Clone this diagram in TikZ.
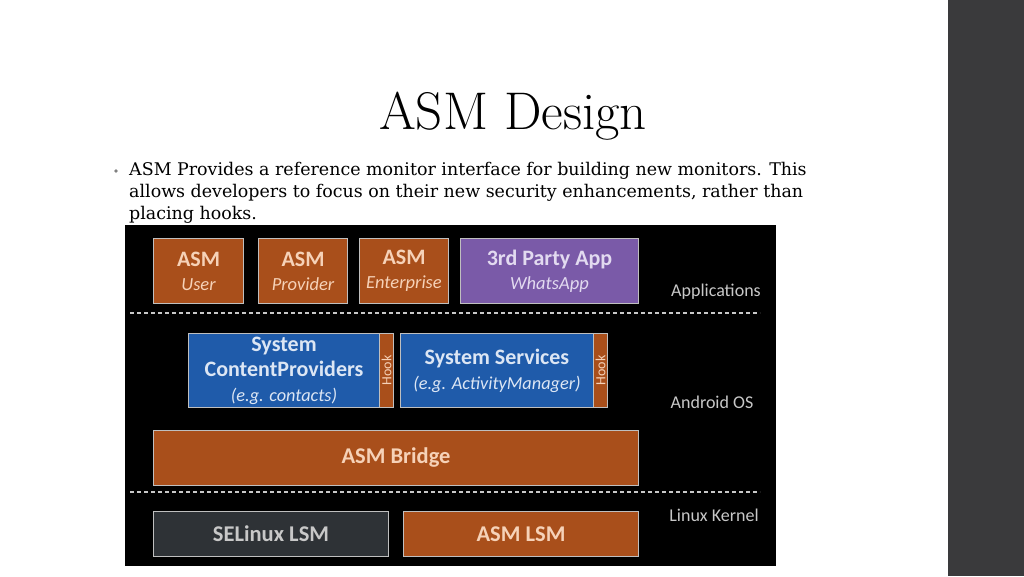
\documentclass[tikz,border=0pt]{standalone}
\usepackage{fontspec}
\newfontfamily\carlitofont{Carlito}
\newfontfamily\bodyserif{DejaVu Serif}
\definecolor{asmorange}{HTML}{A94F1B}
\definecolor{asmpurple}{HTML}{7A5AA8}
\definecolor{asmblue}{HTML}{1F5BAA}
\definecolor{asmgrey}{HTML}{2E3236}
\definecolor{sidebar}{HTML}{3A3A3C}
\definecolor{peach}{HTML}{F6D2B8}
\definecolor{lilac}{HTML}{E2DAF0}
\definecolor{paleblue}{HTML}{DCE6F4}
\definecolor{labelgrey}{HTML}{C8C8C8}
\definecolor{edge}{HTML}{BFBFBF}
\begin{document}
\begin{tikzpicture}[x=1pt,y=-1pt,
  box/.style={draw=edge, line width=1pt, anchor=north west, inner sep=0pt, align=center, font=\carlitofont\fontsize{22}{24}\selectfont},
  obox/.style={box, fill=asmorange, text=peach},
  pbox/.style={box, fill=asmpurple, text=lilac},
  bbox/.style={box, fill=asmblue, text=paleblue},
  gbox/.style={box, fill=asmgrey, text=labelgrey},
  hookbox/.style={box, fill=asmorange, text=peach, font=\carlitofont\fontsize{14}{14}\selectfont},
  layerlabel/.style={text=labelgrey, font=\carlitofont\fontsize{18}{20}\selectfont, inner sep=0pt},
  sep/.style={draw=labelgrey, line width=1.2pt, dash pattern=on 4pt off 3pt}
]
\useasboundingbox (0,0) rectangle (1024,576);
\fill[white] (0,0) rectangle (1024,576);
\fill[sidebar] (948,0) rectangle (1024,576);

% title
\node[inner sep=0pt, font=\fontsize{53}{56}\selectfont] (title) at (513,116) {ASM Design};

% bullet text
\fill[gray] (116,171) circle (1.8pt);
\node[anchor=north west, inner sep=0pt, align=left, font=\bodyserif\fontsize{17.45}{22}\selectfont] (body) at (129,162)
{ASM Provides a reference monitor interface for building new monitors. This\\
allows developers to focus on their new security enhancements, rather than\\
placing hooks.};

% black panel
\fill[black] (125,225) rectangle (776,566);

% applications row
\node[obox, minimum width=90pt, minimum height=65pt] (user) at (153,238)
  {{\bfseries ASM}\\{\itshape\fontsize{18.5}{24}\selectfont User}};
\node[obox, minimum width=89pt, minimum height=65pt] (prov) at (258,238)
  {{\bfseries ASM}\\{\itshape\fontsize{18.5}{24}\selectfont Provider}};
\node[obox, minimum width=89pt, minimum height=65pt] (ent) at (359,238)
  {{\bfseries ASM}\\{\itshape\fontsize{18.5}{24}\selectfont Enterprise}};
\node[pbox, minimum width=178pt, minimum height=65pt] (third) at (460,238)
  {{\bfseries 3rd Party App}\\{\itshape\fontsize{18.5}{24}\selectfont WhatsApp}};
\node[layerlabel] (apps) at (716,292) {Applications};

\coordinate (s1a) at (130,313);
\coordinate (s1b) at (760,313);
\draw[sep] (s1a) -- (s1b);

% android os row
\node[bbox, minimum width=191pt, minimum height=74pt, font=\carlitofont\fontsize{22}{25}\selectfont] (cp) at (188,333)
  {{\bfseries System}\\{\bfseries ContentProviders}\\{\itshape\fontsize{18.3}{25}\selectfont (e.g. contacts)}};
\node[hookbox, minimum width=14pt, minimum height=74pt] (hook1) at (379,333)
  {\rotatebox{90}{Hook}};
\node[bbox, minimum width=193pt, minimum height=74pt, font=\carlitofont\fontsize{22}{25}\selectfont] (ss) at (400,333)
  {{\bfseries System Services}\\{\itshape\fontsize{18.3}{25}\selectfont (e.g. ActivityManager)}};
\node[hookbox, minimum width=14pt, minimum height=74pt] (hook2) at (593,333)
  {\rotatebox{90}{Hook}};
\node[layerlabel] (aos) at (712,402) {Android OS};

\node[obox, minimum width=485pt, minimum height=55pt, font=\carlitofont\bfseries\fontsize{22.5}{24}\selectfont] (bridge) at (153,430) {ASM Bridge};

\coordinate (s2a) at (130,492);
\coordinate (s2b) at (760,492);
\draw[sep] (s2a) -- (s2b);

% kernel row
\node[gbox, minimum width=235pt, minimum height=45pt, font=\carlitofont\bfseries\fontsize{22.5}{24}\selectfont] (selinux) at (153,511) {SELinux LSM};
\node[obox, minimum width=235pt, minimum height=45pt, font=\carlitofont\bfseries\fontsize{22.5}{24}\selectfont] (asmlsm) at (403,511) {ASM LSM};
\node[layerlabel] (lk) at (714,515) {Linux Kernel};
\end{tikzpicture}
\end{document}
